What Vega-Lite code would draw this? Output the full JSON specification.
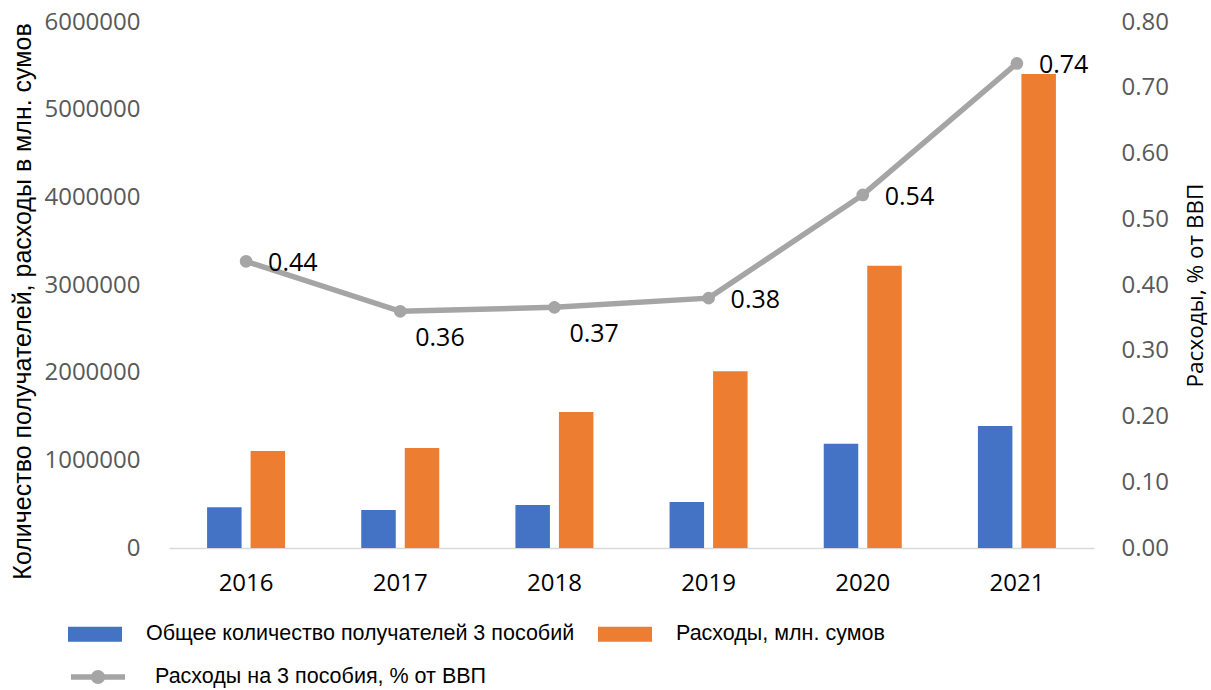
{
  "$schema": "https://vega.github.io/schema/vega-lite/v6.json",
  "width": 925,
  "height": 526,
  "autosize": {"type": "none"},
  "padding": {"left": 169, "top": 22, "right": 117, "bottom": 142},
  "background": "white",
  "config": {"view": {"stroke": null}, "font": "Open Sans"},
  "datasets": {
    "bars": [
      {"year": "2016", "series": "Общее количество получателей 3 пособий", "value": 464000},
      {"year": "2016", "series": "Расходы, млн. сумов", "value": 1106000},
      {"year": "2017", "series": "Общее количество получателей 3 пособий", "value": 433000},
      {"year": "2017", "series": "Расходы, млн. сумов", "value": 1141000},
      {"year": "2018", "series": "Общее количество получателей 3 пособий", "value": 490000},
      {"year": "2018", "series": "Расходы, млн. сумов", "value": 1551000},
      {"year": "2019", "series": "Общее количество получателей 3 пособий", "value": 525000},
      {"year": "2019", "series": "Расходы, млн. сумов", "value": 2015000},
      {"year": "2020", "series": "Общее количество получателей 3 пособий", "value": 1190000},
      {"year": "2020", "series": "Расходы, млн. сумов", "value": 3220000},
      {"year": "2021", "series": "Общее количество получателей 3 пособий", "value": 1392000},
      {"year": "2021", "series": "Расходы, млн. сумов", "value": 5407000}
    ],
    "line": [
      {"year": "2016", "series": "Расходы на 3 пособия, % от ВВП", "pct": 0.436},
      {"year": "2017", "series": "Расходы на 3 пособия, % от ВВП", "pct": 0.36},
      {"year": "2018", "series": "Расходы на 3 пособия, % от ВВП", "pct": 0.366},
      {"year": "2019", "series": "Расходы на 3 пособия, % от ВВП", "pct": 0.38},
      {"year": "2020", "series": "Расходы на 3 пособия, % от ВВП", "pct": 0.537},
      {"year": "2021", "series": "Расходы на 3 пособия, % от ВВП", "pct": 0.737}
    ]
  },
  "encoding": {
    "x": {
      "field": "year",
      "type": "nominal",
      "scale": {"paddingInner": 0.494, "paddingOuter": 0.247},
      "axis": {
        "title": null,
        "labelAngle": 0,
        "labelFont": "Open Sans",
        "labelFontSize": 24,
        "labelColor": "#000000",
        "ticks": false,
        "tickSize": 0,
        "domainColor": "#D9D9D9",
        "domainWidth": 1.5,
        "labelPadding": 23
      }
    }
  },
  "layer": [
    {
      "data": {"name": "bars"},
      "mark": {"type": "bar"},
      "encoding": {
        "xOffset": {
          "field": "series",
          "type": "nominal",
          "scale": {"domain": ["Общее количество получателей 3 пособий", "Расходы, млн. сумов"], "paddingInner": 0.207, "paddingOuter": 0}
        },
        "y": {
          "field": "value",
          "type": "quantitative",
          "scale": {"domain": [0, 6000000], "nice": false},
          "axis": {
            "values": [0, 1000000, 2000000, 3000000, 4000000, 5000000, 6000000],
            "format": "d",
            "grid": false,
            "domain": false,
            "ticks": false,
            "tickSize": 0,
            "labelPadding": 29,
            "labelFont": "Open Sans",
            "labelFontSize": 24,
            "labelColor": "#595959",
            "title": "Количество получателей, расходы в млн. сумов",
            "titleFont": "Liberation Sans",
            "titleFontSize": 25,
            "titleFontWeight": "normal",
            "titleColor": "#000000",
            "titlePadding": 8,
            "titleY": 279
          }
        },
        "color": {
          "field": "series",
          "type": "nominal",
          "scale": {"domain": ["Общее количество получателей 3 пособий", "Расходы, млн. сумов"], "range": ["#4472C4", "#ED7D31"]},
          "legend": {
            "orient": "none",
            "legendX": -101,
            "legendY": 585,
            "direction": "horizontal",
            "title": null,
            "symbolType": "M-1,-0.28H1V0.28H-1Z",
            "symbolSize": 2916,
            "symbolStrokeWidth": 0,
            "labelFont": "Liberation Sans",
            "labelFontSize": 21.5,
            "labelColor": "#000000",
            "labelOffset": 24,
            "labelLimit": 0,
            "columnPadding": 23
          }
        }
      }
    },
    {
      "data": {"name": "line"},
      "encoding": {
        "y": {
          "field": "pct",
          "type": "quantitative",
          "scale": {"domain": [0, 0.8], "nice": false},
          "axis": {
            "orient": "right",
            "values": [0, 0.1, 0.2, 0.3, 0.4, 0.5, 0.6, 0.7, 0.8],
            "format": ".2f",
            "grid": false,
            "domain": false,
            "ticks": false,
            "tickSize": 0,
            "labelPadding": 27,
            "labelFont": "Open Sans",
            "labelFontSize": 24,
            "labelColor": "#595959",
            "title": "Расходы, % от ВВП",
            "titleFont": "Open Sans",
            "titleFontSize": 22.5,
            "titleFontWeight": "normal",
            "titleColor": "#000000",
            "titleAngle": 270,
            "titlePadding": 39
          }
        }
      },
      "layer": [
        {
          "mark": {"type": "line", "strokeWidth": 5.5},
          "encoding": {
            "stroke": {
              "field": "series",
              "type": "nominal",
              "scale": {"range": ["#A5A5A5"]},
              "legend": {
                "orient": "none",
                "legendX": -101,
                "legendY": 625,
                "title": null,
                "symbolType": "M-1,0H1M0.16,0A0.16,0.16 0 1,1 -0.16,0A0.16,0.16 0 1,1 0.16,0Z",
                "symbolSize": 2916,
                "symbolStrokeWidth": 5.5,
                "symbolFillColor": "#A5A5A5",
                "labelFont": "Liberation Sans",
                "labelFontSize": 21.5,
                "labelColor": "#000000",
                "labelOffset": 27,
                "labelLimit": 0,
                "encode": {"symbols": {"update": {"fill": {"value": "#A5A5A5"}, "stroke": {"value": "#A5A5A5"}, "opacity": {"value": 1}}}}
              }
            }
          }
        },
        {
          "mark": {"type": "point", "filled": true, "size": 160, "color": "#A5A5A5", "opacity": 1}
        },
        {
          "transform": [{"filter": "datum.year != '2017' && datum.year != '2018'"}],
          "mark": {"type": "text", "align": "left", "baseline": "middle", "dx": 22, "dy": 2, "font": "Open Sans", "fontSize": 25, "color": "#000000"},
          "encoding": {"text": {"field": "pct", "type": "quantitative", "format": ".2f"}}
        },
        {
          "transform": [{"filter": "datum.year == '2017' || datum.year == '2018'"}],
          "mark": {"type": "text", "align": "left", "baseline": "middle", "dx": 15, "dy": 27, "font": "Open Sans", "fontSize": 25, "color": "#000000"},
          "encoding": {"text": {"field": "pct", "type": "quantitative", "format": ".2f"}}
        }
      ]
    }
  ],
  "resolve": {"scale": {"y": "independent"}}
}
